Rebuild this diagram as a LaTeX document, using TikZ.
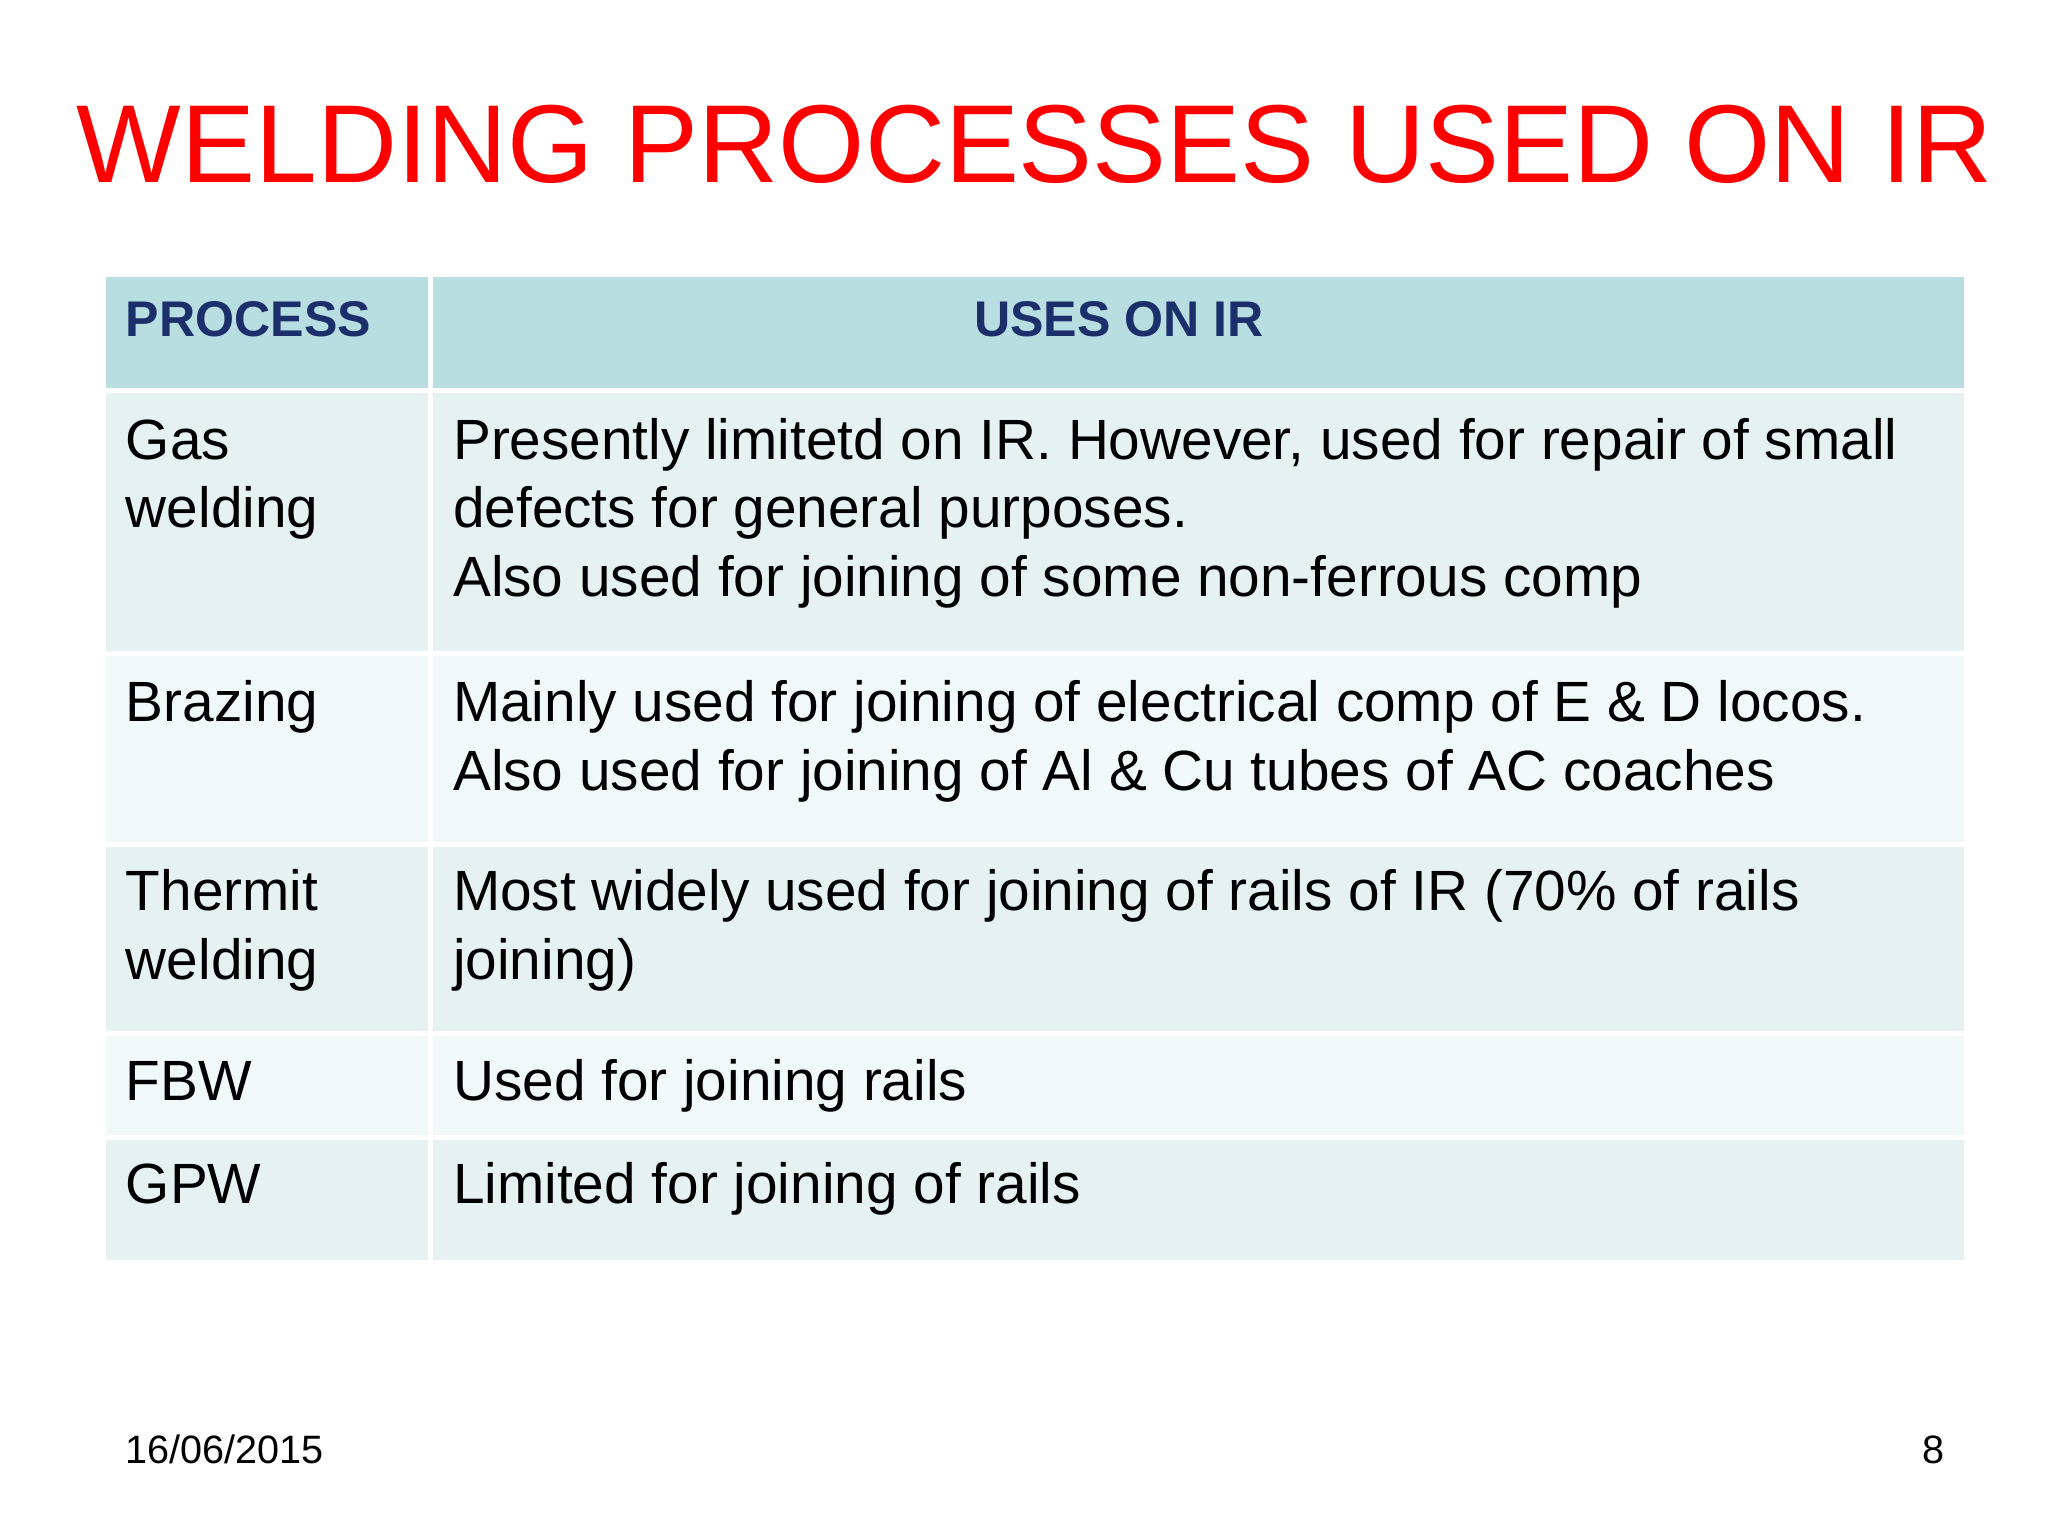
\documentclass[tikz,border=0pt]{standalone}
\usepackage{fontspec}
\setmainfont{Liberation Sans}
\definecolor{hdr}{HTML}{B8DEE1}
\definecolor{rowa}{HTML}{E6F2F2}
\definecolor{rowb}{HTML}{F1F8F8}
\definecolor{navy}{HTML}{1B2F6B}
\definecolor{ttl}{HTML}{FF0000}
\begin{document}
\begin{tikzpicture}[x=0.5pt,y=-0.5pt,
  cell/.style={draw=none},
  txt/.style={anchor=base west,inner sep=0pt,font=\fontsize{21.5}{26}\selectfont},
  hd/.style={anchor=base west,inner sep=0pt,font=\fontsize{19}{23}\selectfont\bfseries,text=navy}]
\useasboundingbox[fill=white] (0,0) rectangle (1552,1164);
\node[font=\fontsize{42}{50}\selectfont,text=ttl,anchor=base] (title) at (784,138) {WELDING PROCESSES USED ON IR};
% header
\fill[hdr] (80,210) rectangle (324,294);
\fill[hdr] (328,210) rectangle (1488,294);
% rows
\foreach \ya/\yb/\c in {298/493/rowa,497/638/rowb,642/781/rowa,785/860/rowb,864/955/rowa}{
  \fill[\c] (80,\ya) rectangle (324,\yb);
  \fill[\c] (328,\ya) rectangle (1488,\yb);
}
\node[hd] (h1) at (95,255) {PROCESS};
\node[hd,anchor=base] (h2) at (848,255) {USES ON IR};
\node[txt] (p1a) at (95,348) {Gas};
\node[txt] (p1b) at (95,400) {welding};
\node[txt] (u1a) at (343,348) {Presently limitetd on IR. However, used for repair of small};
\node[txt] (u1b) at (343,400) {defects for general purposes.};
\node[txt] (u1c) at (343,452) {Also used for joining of some non-ferrous comp};
\node[txt] (p2) at (95,547) {Brazing};
\node[txt] (u2a) at (343,547) {Mainly used for joining of electrical comp of E \& D locos.};
\node[txt] (u2b) at (343,599) {Also used for joining of Al \& Cu tubes of AC coaches};
\node[txt] (p3a) at (95,690) {Thermit};
\node[txt] (p3b) at (95,742) {welding};
\node[txt] (u3a) at (343,690) {Most widely used for joining of rails of IR (70\% of rails};
\node[txt] (u3b) at (343,742) {joining)};
\node[txt] (p4) at (95,834) {FBW};
\node[txt] (u4) at (343,834) {Used for joining rails};
\node[txt] (p5) at (95,912) {GPW};
\node[txt] (u5) at (343,912) {Limited for joining of rails};
\node[anchor=base west,inner sep=0pt,font=\fontsize{15}{18}\selectfont] (date) at (95,1109) {16/06/2015};
\node[anchor=base east,inner sep=0pt,font=\fontsize{15}{18}\selectfont] (pg) at (1474,1109) {8};
\end{tikzpicture}
\end{document}
